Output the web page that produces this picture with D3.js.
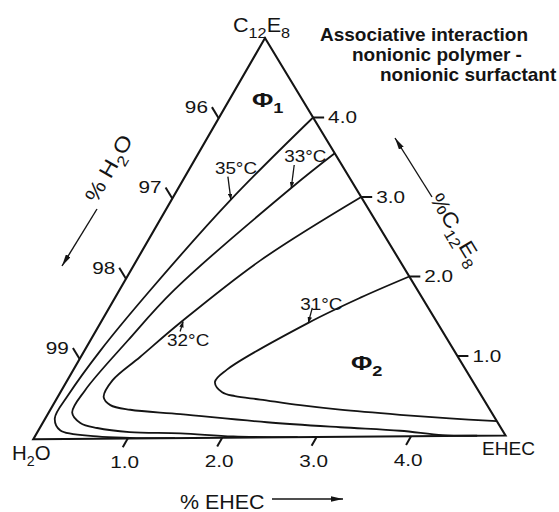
<!DOCTYPE html>
<html>
<head>
<meta charset="utf-8">
<script src="https://cdn.jsdelivr.net/npm/d3@7"></script>
<style>
  body { margin: 0; background: #fff; }
  svg { display: block; }
  text { font-family: "Liberation Sans", Arial, Helvetica, sans-serif; fill: #141414; }
</style>
</head>
<body>
<svg id="chart" width="559" height="512"></svg>
<script>
// Water-rich corner of the H2O / EHEC / C12E8 phase diagram (weight %)
const span = 5;                       // each side covers 0–5 % of the solutes
const ehecTicks = [1, 2, 3, 4];
const ehecTickLabels = ["1.0", "2.0", "3.0", "4.0"];
const surfTicks = [1, 2, 3, 4];
const surfTickLabels = ["1.0", "2.0", "3.0", "4.0"];
const waterTicks = [96, 97, 98, 99];
const waterTickLabels = ["96", "97", "98", "99"];

// Two-phase boundaries at each temperature, points as [EHEC %, C12E8 %]
const temps = ["35°C", "33°C", "32°C", "31°C"];
const boundary35 = [[1.00, 4.00], [0.63, 2.98], [0.33, 1.86], [0.17, 1.11], [0.10, 0.55],
  [0.10, 0.26], [0.23, 0.11], [0.66, 0.03], [1.02, 0.008], [1.50, 0.0]];
const boundary33 = [[1.45, 3.55], [1.20, 3.12], [0.58, 1.85], [0.40, 1.23], [0.25, 0.61],
  [0.25, 0.33], [0.40, 0.20], [0.61, 0.135], [0.98, 0.08], [1.53, 0.06], [2.11, 0.015], [2.80, 0.0]];
const boundary32 = [[2.00, 3.00], [1.32, 2.22], [0.85, 1.45], [0.63, 1.02], [0.48, 0.73],
  [0.49, 0.52], [0.61, 0.42], [0.85, 0.36], [1.41, 0.30], [2.38, 0.19], [3.19, 0.12],
  [3.85, 0.07], [4.33, 0.01], [4.70, 0.0]];
const boundary31 = [[3.00, 2.00], [2.61, 1.74], [2.21, 1.43], [1.63, 0.85], [1.58, 0.70],
  [1.72, 0.57], [1.88, 0.52], [2.17, 0.475], [2.63, 0.40], [3.08, 0.34], [3.75, 0.27],
  [4.30, 0.22], [4.82, 0.18]];
const boundaries = [boundary35, boundary33, boundary32, boundary31];
// point on each boundary that its temperature label points at
const labelTargets = [[0.63, 2.98], [1.20, 3.12], [0.87, 1.46], [2.21, 1.43]];

const svg = d3.select("#chart");

// Triangle corners on screen: H2O (bottom left), EHEC (bottom right), C12E8 (top)
const H = [33.3, 439.3], E = [505.5, 435.5], C = [265, 38];
const frac = d3.scaleLinear().domain([0, span]).range([0, 1]);
function proj(e, c) {
  const a = frac(e), b = frac(c);
  return [H[0] + a * (E[0] - H[0]) + b * (C[0] - H[0]),
          H[1] + a * (E[1] - H[1]) + b * (C[1] - H[1])];
}
function unit(p, q) {
  const dx = q[0] - p[0], dy = q[1] - p[1], L = Math.hypot(dx, dy);
  return [dx / L, dy / L];
}

// arrow heads
const defs = svg.append("defs");
function marker(id, len, wid) {
  defs.append("marker").attr("id", id).attr("markerUnits", "userSpaceOnUse")
    .attr("viewBox", `0 0 ${len} ${wid}`).attr("refX", len).attr("refY", wid / 2)
    .attr("markerWidth", len).attr("markerHeight", wid).attr("orient", "auto")
    .append("path").attr("d", `M0,0L${len},${wid / 2}L0,${wid}Z`).attr("fill", "#141414");
}
marker("headS", 6, 4.5);
marker("headL", 12, 5.5);

// text with optional subscripts, stretched horizontally by sx
function label(x, y, parts, o = {}) {
  const size = o.size || 16, sx = o.sx || 1, rot = o.rot || 0;
  const t = svg.append("text")
    .attr("transform", `translate(${x},${y}) rotate(${rot}) scale(${sx},1)`)
    .attr("font-size", size)
    .attr("font-weight", o.bold ? "bold" : "normal")
    .attr("text-anchor", o.anchor || "start");
  if (o.dy) t.attr("dy", o.dy);
  let shifted = 0;
  parts.forEach(p => {
    const s = typeof p === "string" ? { t: p } : p;
    const want = s.sub ? size * 0.3 : 0;
    t.append("tspan").attr("dy", want - shifted)
      .attr("font-size", s.sub ? (o.subSize || size * 0.72) : size).text(s.t);
    shifted = want;
  });
  return t;
}

// phase boundaries
const line = d3.line()
  .x(d => proj(d[0], d[1])[0]).y(d => proj(d[0], d[1])[1])
  .curve(d3.curveCatmullRom.alpha(0.5));
svg.append("g").selectAll("path").data(boundaries).join("path")
  .attr("d", line).attr("fill", "none").attr("stroke", "#141414")
  .attr("stroke-width", 1.8).attr("stroke-linejoin", "round");

// triangle frame
svg.append("path")
  .attr("d", d3.line()([H, E, C]) + "Z")
  .attr("fill", "none").attr("stroke", "#141414").attr("stroke-width", 2.1)
  .attr("stroke-linejoin", "miter");

const tickFont = 17, tickSx = 1.22;

// % EHEC ticks along the base, drawn parallel to the H2O–C12E8 side
const dBase = unit(C, H);
ehecTicks.forEach((t, i) => {
  const p = proj(t, 0), q = [p[0] + dBase[0] * 10, p[1] + dBase[1] * 10];
  svg.append("line").attr("x1", p[0]).attr("y1", p[1]).attr("x2", q[0]).attr("y2", q[1])
    .attr("stroke", "#141414").attr("stroke-width", 2);
  label(q[0] + 2, q[1] + 21, [ehecTickLabels[i]], { size: tickFont, sx: tickSx, anchor: "middle" });
});

// % C12E8 ticks along the right side, parallel to the base
const dRight = unit(H, E);
surfTicks.forEach((t, i) => {
  const p = proj(span - t, t), q = [p[0] + dRight[0] * 11, p[1] + dRight[1] * 11];
  svg.append("line").attr("x1", p[0]).attr("y1", p[1]).attr("x2", q[0]).attr("y2", q[1])
    .attr("stroke", "#141414").attr("stroke-width", 2);
  label(p[0] + 15, p[1] + 5.5, [surfTickLabels[i]], { size: tickFont, sx: tickSx });
});

// % H2O ticks along the left side, parallel to the EHEC–C12E8 side
const dLeft = unit(E, C);
waterTicks.forEach((w, i) => {
  const p = proj(0, 100 - w), q = [p[0] + dLeft[0] * 13, p[1] + dLeft[1] * 13];
  svg.append("line").attr("x1", p[0]).attr("y1", p[1]).attr("x2", q[0]).attr("y2", q[1])
    .attr("stroke", "#141414").attr("stroke-width", 2);
  label(q[0] - 4, q[1] + 6, [waterTickLabels[i]], { size: tickFont, sx: tickSx, anchor: "end" });
});

// temperature labels with pointer arrows
const labelOffsets = [
  { tx: -16, ty: -26, ax: -3, ay: -23 },
  { tx: -7, ty: -26, ax: 3, ay: -23 },
  { tx: -16, ty: 25, ax: -3, ay: 10 },
  { tx: -8, ty: -13, ax: 4, ay: -15 }
];
temps.forEach((txt, i) => {
  const p = proj(labelTargets[i][0], labelTargets[i][1]), o = labelOffsets[i];
  svg.append("line").attr("x1", p[0] + o.ax).attr("y1", p[1] + o.ay)
    .attr("x2", p[0]).attr("y2", p[1])
    .attr("stroke", "#141414").attr("stroke-width", 1.3).attr("marker-end", "url(#headS)");
  label(p[0] + o.tx, p[1] + o.ty, [txt], { size: 16, sx: 1.18 });
});

// corner labels
label(233, 32, ["C", { t: "12", sub: true }, "E", { t: "8", sub: true }], { size: 20, sx: 1.08, subSize: 15 });
label(12, 460, ["H", { t: "2", sub: true }, "O"], { size: 20, sx: 1.02, subSize: 14 });
label(482, 455, ["EHEC"], { size: 18, sx: 1.06 });

// phase region labels
label(252, 107, ["Φ", { t: "1", sub: true }], { size: 20, sx: 1.3, bold: true, subSize: 14 });
label(351, 370, ["Φ", { t: "2", sub: true }], { size: 20, sx: 1.3, bold: true, subSize: 14 });

// title
label(320, 41, ["Associative interaction"], { size: 19, bold: true });
label(352, 61, ["nonionic polymer -"], { size: 19, bold: true });
label(380, 81, ["nonionic surfactant"], { size: 19, bold: true });

// axis titles with direction arrows
label(180, 509, ["% EHEC"], { size: 21, sx: 1.02 });
svg.append("line").attr("x1", 272).attr("y1", 499).attr("x2", 343).attr("y2", 499)
  .attr("stroke", "#141414").attr("stroke-width", 1.4).attr("marker-end", "url(#headL)");

label(115, 172, ["% H", { t: "2", sub: true }, "O"], { size: 21, sx: 1.15, rot: -60, anchor: "middle", dy: "0.35em", subSize: 15 });
svg.append("line").attr("x1", 97).attr("y1", 209).attr("x2", 62).attr("y2", 266)
  .attr("stroke", "#141414").attr("stroke-width", 1.4).attr("marker-end", "url(#headL)");

label(450, 233, ["%C", { t: "12", sub: true }, "E", { t: "8", sub: true }], { size: 21, sx: 1.1, rot: 58.8, anchor: "middle", dy: "0.35em", subSize: 15 });
svg.append("line").attr("x1", 432).attr("y1", 197).attr("x2", 395).attr("y2", 138)
  .attr("stroke", "#141414").attr("stroke-width", 1.4).attr("marker-end", "url(#headL)");
</script>
</body>
</html>
